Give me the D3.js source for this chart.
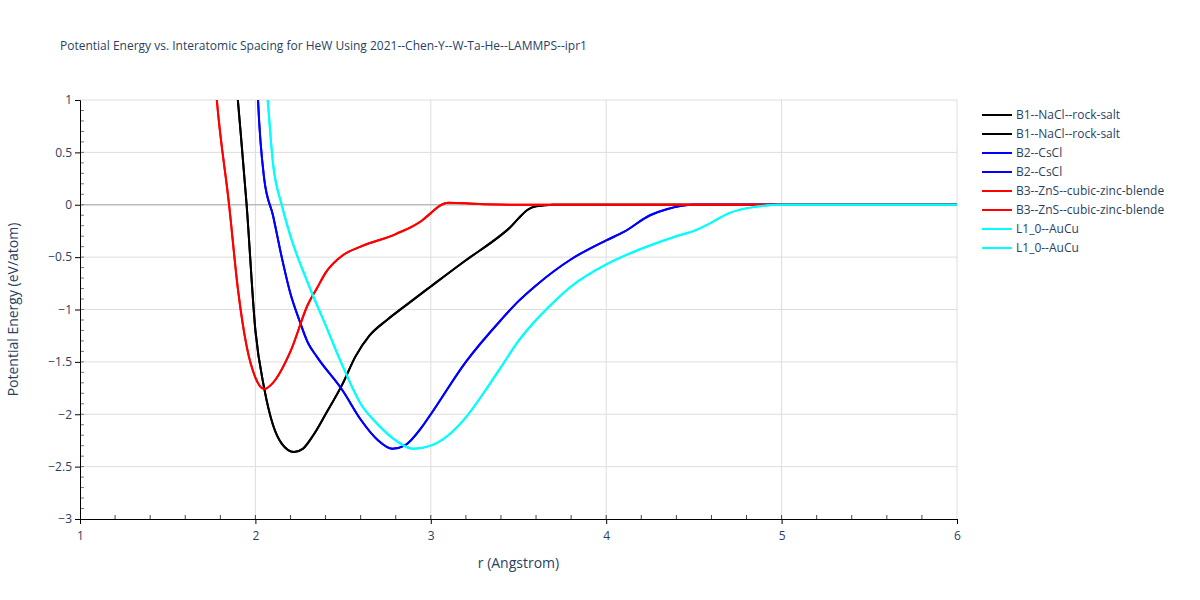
<!DOCTYPE html>
<html><head><meta charset="utf-8">
<script src="https://cdn.jsdelivr.net/npm/d3@7"></script>
<style>body{margin:0;background:#fff;font-family:"Open Sans",sans-serif;}</style>
</head><body><div id="chart"></div>
<script>
const b1 = [[1.89,1.2],[1.9,1],[1.95,0],[2.0,-1.2],[2.05,-1.75],[2.1,-2.1],[2.15,-2.28],[2.22,-2.36],[2.27,-2.33],[2.33,-2.2],[2.4,-2.0],[2.5,-1.7],[2.57,-1.45],[2.65,-1.25],[2.75,-1.1],[2.85,-0.97],[3.0,-0.78],[3.2,-0.53],[3.4,-0.29],[3.45,-0.22],[3.5,-0.13],[3.55,-0.05],[3.6,-0.015],[3.7,0],[6,0]];
const b2 = [[2.01,1.2],[2.015,1],[2.05,0.25],[2.1,-0.1],[2.15,-0.5],[2.2,-0.85],[2.25,-1.1],[2.3,-1.32],[2.35,-1.45],[2.5,-1.78],[2.6,-2.05],[2.7,-2.25],[2.78,-2.33],[2.85,-2.3],[2.95,-2.12],[3.0,-2.0],[3.2,-1.5],[3.4,-1.1],[3.5,-0.92],[3.6,-0.77],[3.8,-0.52],[4.0,-0.34],[4.1,-0.26],[4.25,-0.1],[4.35,-0.04],[4.5,0],[6,0]];
const b3 = [[1.77,1.2],[1.78,1],[1.85,0],[1.9,-0.8],[1.95,-1.35],[2.0,-1.65],[2.05,-1.76],[2.1,-1.7],[2.2,-1.4],[2.3,-0.95],[2.35,-0.8],[2.4,-0.65],[2.5,-0.48],[2.6,-0.4],[2.8,-0.28],[2.95,-0.15],[3.0,-0.08],[3.05,-0.01],[3.1,0.02],[3.2,0.015],[3.3,0.005],[3.5,0],[6,0]];
const l10 = [[2.06,1.2],[2.07,1],[2.1,0.4],[2.15,0],[2.2,-0.3],[2.3,-0.75],[2.4,-1.15],[2.5,-1.55],[2.6,-1.9],[2.7,-2.1],[2.8,-2.25],[2.9,-2.33],[3.0,-2.3],[3.1,-2.2],[3.2,-2.03],[3.3,-1.8],[3.4,-1.55],[3.5,-1.3],[3.6,-1.1],[3.7,-0.93],[3.8,-0.78],[4.0,-0.57],[4.2,-0.42],[4.4,-0.3],[4.5,-0.25],[4.6,-0.17],[4.7,-0.08],[4.85,-0.02],[5.0,0],[6,0]];
const series = [
  {name:"B1--NaCl--rock-salt", color:"#000000", data:b1},
  {name:"B1--NaCl--rock-salt", color:"#000000", data:b1},
  {name:"B2--CsCl", color:"#0000ff", data:b2},
  {name:"B2--CsCl", color:"#0000ff", data:b2},
  {name:"B3--ZnS--cubic-zinc-blende", color:"#ff0000", data:b3},
  {name:"B3--ZnS--cubic-zinc-blende", color:"#ff0000", data:b3},
  {name:"L1_0--AuCu", color:"#00ffff", data:l10},
  {name:"L1_0--AuCu", color:"#00ffff", data:l10}
];
const xTicks = [1,2,3,4,5,6];
const yTicks = [1,0.5,0,-0.5,-1,-1.5,-2,-2.5,-3];

const W=1200,H=600, m={left:80,right:243,top:100,bottom:81};
const svg = d3.select("#chart").append("svg").attr("width",W).attr("height",H);
const x = d3.scaleLinear().domain([1,6]).range([m.left, W-m.right]);
const y = d3.scaleLinear().domain([-3,1]).range([H-m.bottom, m.top]);
const fmt = d => d<0 ? "\u2212"+Math.abs(d) : d;

// grid
svg.append("g").selectAll("line").data(xTicks.slice(1)).join("line")
  .attr("x1",d=>x(d)).attr("x2",d=>x(d)).attr("y1",m.top).attr("y2",H-m.bottom).attr("stroke","#ddd");
svg.append("g").selectAll("line").data(yTicks.slice(0,-1)).join("line")
  .attr("x1",m.left).attr("x2",W-m.right).attr("y1",d=>y(d)).attr("y2",d=>y(d))
  .attr("stroke",d=>d===0?"#bbb":"#ddd").attr("stroke-width",d=>d===0?1.5:1);

// minor ticks
svg.append("g").selectAll("line").data(d3.range(1.2,6,0.2)).join("line")
  .attr("x1",d=>x(d)).attr("x2",d=>x(d)).attr("y1",H-m.bottom).attr("y2",H-m.bottom-4).attr("stroke","#444");
svg.append("g").selectAll("line").data(d3.range(-2.9,1,0.1)).join("line")
  .attr("x1",m.left).attr("x2",m.left+4).attr("y1",d=>y(d)).attr("y2",d=>y(d)).attr("stroke","#777");

const clip = svg.append("clipPath").attr("id","clip").append("rect")
  .attr("x",m.left).attr("y",m.top).attr("width",W-m.left-m.right).attr("height",H-m.top-m.bottom);
const line = d3.line().x(d=>x(d[0])).y(d=>y(d[1])).curve(d3.curveMonotoneX);
svg.append("g").attr("clip-path","url(#clip)").selectAll("path").data(series).join("path")
  .attr("d",d=>line(d.data)).attr("fill","none").attr("stroke",d=>d.color).attr("stroke-width",2);

const xa = svg.append("g").attr("transform",`translate(0,${H-m.bottom})`)
  .call(d3.axisBottom(x).tickValues(xTicks).tickSize(5).tickFormat(d=>d));
const ya = svg.append("g").attr("transform",`translate(${m.left},0)`)
  .call(d3.axisLeft(y).tickValues(yTicks).tickSize(5).tickFormat(fmt));
[xa,ya].forEach(a=>{a.select(".domain").attr("stroke","#000");
  a.selectAll("text").attr("fill","#2a3f5f").style("font-size","12px").style("font-family","Open Sans");});
xa.selectAll("text").attr("dy","1.1em");

svg.append("text").attr("x",(x(1)+x(6))/2).attr("y",568).attr("text-anchor","middle")
  .attr("fill","#2a3f5f").style("font-size","14px").text("r (Angstrom)");
svg.append("text").attr("transform",`translate(18,${(y(1)+y(-3))/2}) rotate(-90)`).attr("text-anchor","middle")
  .attr("fill","#2a3f5f").style("font-size","14px").text("Potential Energy (eV/atom)");
svg.append("text").attr("x",60).attr("y",50).attr("fill","#2a3f5f").style("font-size","12px")
  .text("Potential Energy vs. Interatomic Spacing for HeW Using 2021--Chen-Y--W-Ta-He--LAMMPS--ipr1");

const lg = svg.append("g").selectAll("g").data(series).join("g")
  .attr("transform",(d,i)=>`translate(982,${115+i*19})`);
lg.append("line").attr("x1",0).attr("x2",30).attr("stroke",d=>d.color).attr("stroke-width",2);
lg.append("text").attr("x",34).attr("dy","0.35em").attr("fill","#2a3f5f").style("font-size","12px").text(d=>d.name);
</script></body></html>
